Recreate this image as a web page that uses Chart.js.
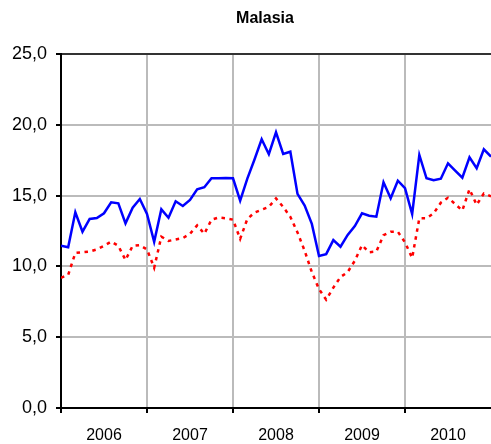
<!DOCTYPE html>
<html><head><meta charset="utf-8">
<script src="https://cdn.jsdelivr.net/npm/chart.js@4"></script>
<style>html,body{margin:0;padding:0;background:#fff}#wrap{width:491px;height:444px}</style>
</head><body><div id="wrap"><canvas id="c" width="491" height="444"></canvas></div>
<script>
const chartTitle = 'Malasia';
const years = ['2006', '2007', '2008', '2009', '2010'];
const yTickValues = [0, 5, 10, 15, 20, 25];
// monthly values, one per month position (0 = first month at the left axis)
const blueSeries = [
  11.46, 11.35, 13.82, 12.45, 13.35, 13.42, 13.75, 14.53, 14.45, 13.04, 14.15, 14.76,
  13.70, 11.74, 14.03, 13.44, 14.60, 14.27, 14.69, 15.44, 15.59, 16.22, 16.22, 16.24,
  16.22, 14.64, 16.20, 17.55, 18.98, 17.92, 19.47, 17.94, 18.10, 15.12, 14.30, 13.00,
  10.73, 10.87, 11.86, 11.39, 12.22, 12.85, 13.75, 13.58, 13.51, 15.94, 14.81, 16.05,
  15.52, 13.70, 17.87, 16.22, 16.08, 16.19, 17.28, 16.76, 16.26, 17.70, 16.93, 18.27,
  17.75
];
const redSeries = [
  9.20, 9.40, 10.95, 11.00, 11.05, 11.20, 11.45, 11.75, 11.45, 10.45, 11.45, 11.50,
  11.20, 9.90, 12.10, 11.80, 11.90, 12.00, 12.30, 12.90, 12.30, 13.30, 13.45, 13.40,
  13.30, 11.95, 13.35, 13.80, 14.00, 14.20, 14.80, 14.20, 13.50, 12.40, 11.10, 9.60,
  8.40, 7.65, 8.50, 9.25, 9.60, 10.40, 11.50, 11.00, 11.05, 12.20, 12.45, 12.45,
  11.70, 10.60, 13.40, 13.40, 13.75, 14.50, 14.85, 14.40, 13.95, 15.45, 14.35, 15.15,
  14.95
];

const toXY = arr => arr.map((v, i) => ({ x: i, y: v }));
const lastIndex = blueSeries.length - 1;

const titlePlugin = {
  id: 'fixedTitle',
  afterDraw(chart) {
    const c = chart.ctx;
    c.save();
    c.font = 'bold 16px "Liberation Sans", Arial, sans-serif';
    c.fillStyle = '#000';
    c.textAlign = 'center';
    c.textBaseline = 'alphabetic';
    c.fillText(chartTitle, 265, 23);
    c.restore();
  }
};

new Chart(document.getElementById('c'), {
  type: 'line',
  data: {
    datasets: [
      { data: toXY(blueSeries), borderColor: '#0000ff', borderWidth: 2.5, pointRadius: 0, tension: 0, fill: false },
      { data: toXY(redSeries), borderColor: '#ff0000', borderWidth: 2.5, borderDash: [3.5, 4.5], pointRadius: 0, tension: 0, fill: false }
    ]
  },
  options: {
    responsive: false,
    animation: false,
    events: [],
    layout: { autoPadding: false, padding: { top: 54, left: 0, right: 0, bottom: 0 } },
    plugins: { legend: { display: false }, title: { display: false }, tooltip: { enabled: false } },
    scales: {
      x: {
        type: 'linear', min: 0, max: lastIndex,
        afterBuildTicks: s => { const t = []; for (let v = 0; v <= lastIndex; v += 6) t.push({ value: v }); s.ticks = t; },
        ticks: {
          autoSkip: false, maxRotation: 0, padding: 13, color: '#000',
          font: { family: '"Liberation Sans", Arial, sans-serif', size: 16 },
          callback: v => (v % 12 === 6) ? years[(v - 6) / 12] : ''
        },
        grid: {
          lineWidth: 2, tickLength: 5,
          color: c => (c.tick && c.tick.value % 12 === 0 && c.tick.value > 0 && c.tick.value < lastIndex) ? '#bbbbbb' : 'rgba(0,0,0,0)',
          tickColor: c => (c.tick && c.tick.value % 12 === 0 && c.tick.value < lastIndex) ? '#000' : 'rgba(0,0,0,0)'
        },
        border: { color: '#000', width: 2 },
        afterFit: s => { s.height = 36; s.paddingLeft = 0; s.paddingRight = 0; }
      },
      y: {
        min: 0, max: 25,
        afterBuildTicks: s => { s.ticks = yTickValues.map(v => ({ value: v })); },
        ticks: {
          padding: 9, color: '#000',
          font: { family: '"Liberation Sans", Arial, sans-serif', size: 18 },
          callback: v => v.toFixed(1).replace('.', ',')
        },
        grid: {
          lineWidth: 2, tickLength: 5, tickColor: '#000',
          color: c => (c.tick && c.tick.value === 25) ? '#333333' : '#bbbbbb'
        },
        border: { color: '#000', width: 2 },
        afterFit: s => { s.width = 61; s.paddingTop = 0; s.paddingBottom = 0; }
      }
    }
  },
  plugins: [titlePlugin]
});
</script></body></html>
